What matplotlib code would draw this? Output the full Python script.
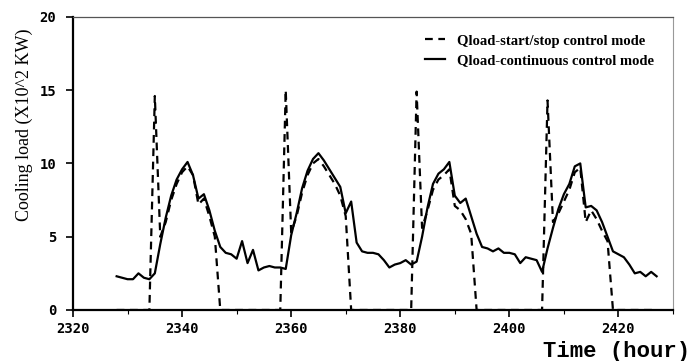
import numpy as np
import matplotlib
matplotlib.use('Agg')
import matplotlib.pyplot as plt
from matplotlib.ticker import MultipleLocator

# hours of the record
hours = list(range(2328, 2428))

# Qload with continuous control (x10^2 kW)
q_continuous = [
    2.3, 2.2, 2.1, 2.1, 2.5, 2.2, 2.1, 2.5, 4.5, 6.3,
    7.8, 8.9, 9.6, 10.1, 9.2, 7.6, 7.9, 6.8, 5.4, 4.3,
    3.9, 3.8, 3.5, 4.7, 3.2, 4.1, 2.7, 2.9, 3.0, 2.9,
    2.9, 2.8, 5.1, 6.6, 8.3, 9.5, 10.3, 10.7, 10.2, 9.6,
    9.0, 8.4, 6.6, 7.4, 4.6, 4.0, 3.9, 3.9, 3.8, 3.4,
    2.9, 3.1, 3.2, 3.4, 3.1, 3.3, 5.0, 7.0, 8.6, 9.3,
    9.6, 10.1, 7.8, 7.3, 7.6, 6.4, 5.2, 4.3, 4.2, 4.0,
    4.2, 3.9, 3.9, 3.8, 3.2, 3.6, 3.5, 3.4, 2.6, 4.2,
    5.6, 6.9, 7.9, 8.6, 9.8, 10.0, 7.0, 7.1, 6.8, 6.0,
    5.0, 4.0, 3.8, 3.6, 3.1, 2.5, 2.6, 2.3, 2.6, 2.3,
]

# Qload with start/stop control (x10^2 kW)
q_startstop = [
    0, 0, 0, 0, 0, 0, 0, 14.6, 5.0, 6.0,
    7.5, 8.6, 9.4, 9.8, 9.2, 7.2, 7.6, 6.4, 5.0, 0,
    0, 0, 0, 0, 0, 0, 0, 0, 0, 0,
    0, 15.0, 5.3, 6.4, 8.0, 9.2, 10.0, 10.3, 9.8, 9.2,
    8.6, 7.8, 6.4, 0, 0, 0, 0, 0, 0, 0,
    0, 0, 0, 0, 0, 14.9, 5.6, 6.8, 8.2, 8.9,
    9.2, 9.6, 7.1, 6.8, 6.2, 5.2, 0, 0, 0, 0,
    0, 0, 0, 0, 0, 0, 0, 0, 0, 14.3,
    6.0, 6.6, 7.4, 8.2, 9.4, 9.7, 6.0, 6.8, 6.2, 5.4,
    4.7, 0, 0, 0, 0, 0, 0, 0, 0, 0,
]

fig = plt.figure(figsize=(6.92, 3.61), dpi=100)
ax = fig.add_axes([0.1055, 0.1413, 0.867, 0.812])

ax.plot(hours, q_startstop, color='black', lw=1.6, ls=(0, (3.5, 2.5)),
        label='Qload-start/stop control mode')
ax.plot(hours, q_continuous, color='black', lw=1.6,
        label='Qload-continuous control mode')

ax.set_xlim(2320, 2430)
ax.set_ylim(0, 20)
ax.xaxis.set_major_locator(MultipleLocator(20))
ax.xaxis.set_minor_locator(MultipleLocator(10))
ax.yaxis.set_major_locator(MultipleLocator(5))

for lbl in ax.get_xticklabels() + ax.get_yticklabels():
    lbl.set_family('DejaVu Sans Mono')
    lbl.set_fontweight('bold')
    lbl.set_fontsize(10)
ax.tick_params(axis='both', which='major', length=5, width=1.2, direction='out')
ax.tick_params(axis='x', which='major', pad=4)
ax.tick_params(axis='y', which='major', pad=7)
ax.tick_params(axis='x', which='minor', length=3, width=0.8, direction='out')

ax.spines['left'].set_linewidth(1.6)
ax.spines['bottom'].set_linewidth(1.6)
ax.spines['top'].set_linewidth(0.9)
ax.spines['top'].set_color('#555555')
ax.spines['right'].set_linewidth(0.8)
ax.spines['right'].set_color('#999999')

fig.text(0.035, 0.655, 'Cooling load (X10^2 KW)', family='Liberation Serif',
         fontsize=13, rotation=90, ha='center', va='center')
fig.text(0.997, 0.025, 'Time (hour)', family='Liberation Mono', fontweight='bold',
         fontsize=16, ha='right', va='center')

leg = ax.legend(loc='upper right', bbox_to_anchor=(0.99, 0.985), frameon=False,
                prop={'family': 'Liberation Serif', 'weight': 'bold', 'size': 10.5},
                handlelength=1.4, handletextpad=0.8, labelspacing=0.45)

fig.savefig('out.png', dpi=100)
